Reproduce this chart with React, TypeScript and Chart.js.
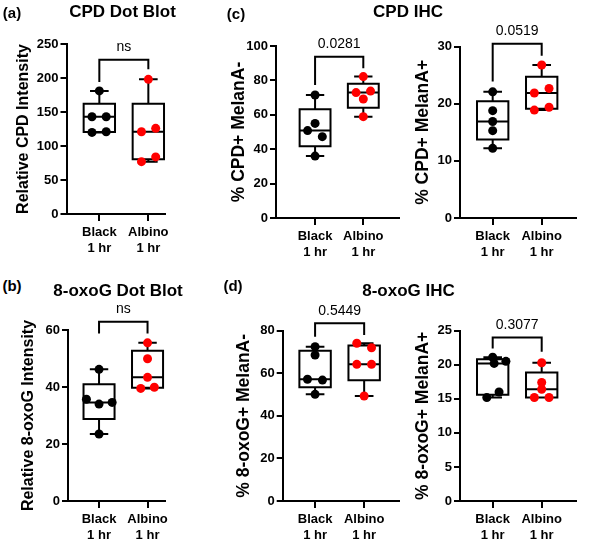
import React, { useEffect, useRef } from "react";
import { Chart, registerables } from "chart.js";
Chart.register(...registerables);

const FONT = "'Liberation Sans', Arial, Helvetica, sans-serif";

// Category tick labels
const categoryLabels = [["Black", "1 hr"], ["Albino", "1 hr"]];

// (a) CPD Dot Blot
const cpdDotBlack = [181, 143, 143, 120, 121];
const cpdDotBlackJitter = [0, -0.15, 0.14, -0.15, 0.14];
const cpdDotAlbino = [198, 121, 126, 84, 77];
const cpdDotAlbinoJitter = [0, -0.14, 0.15, 0.15, -0.14];
const cpdDotTicks = [0, 250, 50];
const cpdDotBracket = [227, 194, 213];
const cpdDotP = "ns";

// (b) 8-oxoG Dot Blot
const oxoDotBlack = [46.2, 35.7, 34.0, 34.6, 23.5];
const oxoDotBlackJitter = [0, -0.26, 0, 0.27, 0];
const oxoDotAlbino = [55.5, 49.9, 43.4, 39.5, 39.9];
const oxoDotAlbinoJitter = [0, 0, 0, -0.14, 0.14];
const oxoDotTicks = [0, 60, 20];
const oxoDotBracket = [62.9, 58.8, 58.8];
const oxoDotP = "ns";

// (c) CPD IHC, MelanA-
const cpdNegBlack = [71.5, 55.0, 50.8, 47.3, 36.0];
const cpdNegBlackJitter = [0, 0, -0.155, 0.15, 0];
const cpdNegAlbino = [82.2, 72.9, 73.8, 69.2, 58.9];
const cpdNegAlbinoJitter = [0, -0.15, 0.15, 0, 0];
const cpdNegTicks = [0, 100, 20];
const cpdNegBracket = [93.8, 77.3, 87];
const cpdNegP = "0.0281";

// (c) CPD IHC, MelanA+
const cpdPosBlack = [22.1, 18.8, 16.9, 15.3, 12.2];
const cpdPosBlackJitter = [0, 0, 0, 0, 0];
const cpdPosAlbino = [26.8, 21.9, 22.7, 18.9, 19.4];
const cpdPosAlbinoJitter = [0, -0.15, 0.15, -0.15, 0.15];
const cpdPosTicks = [0, 30, 10];
const cpdPosBracket = [30.5, 23.9, 28.4];
const cpdPosP = "0.0519";

// (d) 8-oxoG IHC, MelanA-
const oxoNegBlack = [72.5, 68.6, 57.2, 56.8, 50.1];
const oxoNegBlackJitter = [0, 0, -0.155, 0.15, 0];
const oxoNegAlbino = [74.1, 72.0, 64.2, 64.2, 49.3];
const oxoNegAlbinoJitter = [-0.15, 0.15, -0.15, 0.15, 0];
const oxoNegTicks = [0, 80, 20];
const oxoNegBracket = [83.5, 77.2, 78];
const oxoNegP = "0.5449";

// (d) 8-oxoG IHC, MelanA+
const oxoPosBlack = [21.1, 20.5, 20.2, 16.0, 15.2];
const oxoPosBlackJitter = [0, 0.27, 0.03, 0.13, -0.12];
const oxoPosAlbino = [20.3, 17.4, 16.4, 15.2, 15.2];
const oxoPosAlbinoJitter = [0, 0, 0, -0.15, 0.15];
const oxoPosTicks = [0, 25, 5];
const oxoPosBracket = [24.0, 22.4, 21.9];
const oxoPosP = "0.3077";

function median(a: number[]) {
  const n = a.length;
  const m = Math.floor(n / 2);
  return n % 2 ? a[m] : (a[m - 1] + a[m]) / 2;
}
function boxStats(values: number[]) {
  const s = [...values].sort((p, q) => p - q);
  const n = s.length;
  const half = Math.floor(n / 2);
  return {
    min: s[0],
    max: s[n - 1],
    med: median(s),
    q1: median(s.slice(0, half)),
    q3: median(s.slice(n - half)),
  };
}

type PanelProps = {
  box: number[]; // canvas x, y, w, h
  area: number[]; // left, top, right, bottom
  xRange: number[];
  yTicks: number[];
  yTitle: string;
  titleSize: number;
  titleX: number;
  black: number[];
  blackJitter: number[];
  albino: number[];
  albinoJitter: number[];
  bracket: number[];
  pLabel: string;
};

function Panel(p: PanelProps) {
  const ref = useRef<HTMLCanvasElement>(null);
  useEffect(() => {
    const [bx, by, bw, bh] = p.box;
    const [al, at, ar, ab] = p.area;
    const lh = p.titleSize * 1.2;
    const plugin = {
      id: "boxes",
      beforeDatasetsDraw(chart: any) {
        const { ctx } = chart;
        const x = chart.scales.x;
        const y = chart.scales.y;
        ctx.save();
        ctx.strokeStyle = "#000";
        ctx.lineWidth = 2;
        ctx.lineCap = "butt";
        const groups = [
          { v: p.black, pos: 1 },
          { v: p.albino, pos: 2 },
        ];
        for (const g of groups) {
          const st = boxStats(g.v);
          const xc = x.getPixelForValue(g.pos);
          const hw = x.getPixelForValue(g.pos + 0.32) - xc;
          const cw = x.getPixelForValue(g.pos + 0.19) - xc;
          const yq1 = y.getPixelForValue(st.q1);
          const yq3 = y.getPixelForValue(st.q3);
          const ym = y.getPixelForValue(st.med);
          const ymin = y.getPixelForValue(st.min);
          const ymax = y.getPixelForValue(st.max);
          ctx.beginPath();
          ctx.rect(xc - hw, yq3, 2 * hw, yq1 - yq3);
          ctx.moveTo(xc - hw, ym);
          ctx.lineTo(xc + hw, ym);
          ctx.moveTo(xc, yq3);
          ctx.lineTo(xc, ymax);
          ctx.moveTo(xc, yq1);
          ctx.lineTo(xc, ymin);
          ctx.moveTo(xc - cw, ymax);
          ctx.lineTo(xc + cw, ymax);
          ctx.moveTo(xc - cw, ymin);
          ctx.lineTo(xc + cw, ymin);
          ctx.stroke();
        }
        const [top, legL, legR] = p.bracket;
        const x1 = x.getPixelForValue(1);
        const x2 = x.getPixelForValue(2);
        const yt = y.getPixelForValue(top);
        ctx.beginPath();
        ctx.moveTo(x1, y.getPixelForValue(legL));
        ctx.lineTo(x1, yt);
        ctx.lineTo(x2, yt);
        ctx.lineTo(x2, y.getPixelForValue(legR));
        ctx.stroke();
        ctx.fillStyle = "#000";
        ctx.font = `14px ${FONT}`;
        ctx.textAlign = "center";
        ctx.textBaseline = "middle";
        ctx.fillText(p.pLabel, (x1 + x2) / 2, yt - 12.5);
        ctx.restore();
      },
    };
    const tickFont = { size: 13, weight: "bold" as const, family: FONT, lineHeight: 1.2 };
    const chart = new Chart(ref.current!, {
      type: "scatter",
      data: {
        datasets: [
          {
            data: p.black.map((v, i) => ({ x: 1 + p.blackJitter[i], y: v })),
            backgroundColor: "#000000",
            borderColor: "#000000",
            borderWidth: 0,
            pointRadius: 4.5,
            clip: false,
          } as any,
          {
            data: p.albino.map((v, i) => ({ x: 2 + p.albinoJitter[i], y: v })),
            backgroundColor: "#ff0000",
            borderColor: "#ff0000",
            borderWidth: 0,
            pointRadius: 4.5,
            clip: false,
          } as any,
        ],
      },
      options: {
        animation: false,
        responsive: false,
        events: [],
        layout: { padding: { left: 0, top: at - by, right: bx + bw - ar, bottom: 0 } },
        plugins: { legend: { display: false }, tooltip: { enabled: false } },
        scales: {
          x: {
            type: "linear",
            min: p.xRange[0],
            max: p.xRange[1],
            afterBuildTicks: (s: any) => {
              s.ticks = [{ value: 1 }, { value: 2 }];
            },
            ticks: {
              callback: (v: any) => categoryLabels[Math.round(Number(v)) - 1],
              font: tickFont,
              color: "#000",
              maxRotation: 0,
              autoSkip: false,
              padding: 4,
            },
            grid: { drawOnChartArea: false, drawTicks: true, tickLength: 7, color: "#000", lineWidth: 2 },
            border: { display: true, color: "#000", width: 2 },
            afterFit: (s: any) => {
              s.height = by + bh - ab;
            },
          } as any,
          y: {
            type: "linear",
            min: p.yTicks[0],
            max: p.yTicks[1],
            ticks: { stepSize: p.yTicks[2], font: tickFont, color: "#000", padding: 2 },
            grid: { drawOnChartArea: false, drawTicks: true, tickLength: 6, color: "#000", lineWidth: 2 },
            border: { display: true, color: "#000", width: 2 },
            title: {
              display: true,
              text: p.yTitle,
              color: "#000",
              font: { size: p.titleSize, weight: "bold", family: FONT, lineHeight: 1.2 },
              padding: { top: p.titleX - bx - lh / 2, bottom: 0 },
            },
            afterFit: (s: any) => {
              s.width = al - bx;
            },
          } as any,
        },
      },
      plugins: [plugin as any],
    });
    return () => chart.destroy();
  }, []);
  const [bx, by, bw, bh] = p.box;
  return (
    <canvas
      ref={ref}
      width={bw}
      height={bh}
      style={{ position: "absolute", left: bx, top: by, width: bw, height: bh }}
    />
  );
}

function Label(props: { text: string; x: number; y: number; size: number }) {
  return (
    <div
      style={{
        position: "absolute",
        left: props.x,
        top: props.y,
        transform: "translate(-50%, -50%)",
        fontFamily: FONT,
        fontWeight: "bold",
        fontSize: props.size,
        lineHeight: 1,
        whiteSpace: "nowrap",
        color: "#000",
      }}
    >
      {props.text}
    </div>
  );
}

export default function App() {
  return (
    <div style={{ position: "fixed", left: 0, top: 0, width: 614, height: 551, background: "#fff", overflow: "hidden" }}>
      <Panel
        box={[0, 20, 200, 250]}
        area={[66.5, 44, 165, 214]}
        xRange={[0.33, 2.34]}
        yTicks={cpdDotTicks}
        yTitle="Relative CPD Intensity"
        titleSize={16}
        titleX={24}
        black={cpdDotBlack}
        blackJitter={cpdDotBlackJitter}
        albino={cpdDotAlbino}
        albinoJitter={cpdDotAlbinoJitter}
        bracket={cpdDotBracket}
        pLabel={cpdDotP}
      />
      <Panel
        box={[0, 298, 200, 253]}
        area={[68, 330, 165, 501]}
        xRange={[0.36, 2.36]}
        yTicks={oxoDotTicks}
        yTitle="Relative 8-oxoG Intensity"
        titleSize={16}
        titleX={29}
        black={oxoDotBlack}
        blackJitter={oxoDotBlackJitter}
        albino={oxoDotAlbino}
        albinoJitter={oxoDotAlbinoJitter}
        bracket={oxoDotBracket}
        pLabel={oxoDotP}
      />
      <Panel
        box={[200, 20, 205, 250]}
        area={[276, 46, 399, 218]}
        xRange={[0.19, 2.74]}
        yTicks={cpdNegTicks}
        yTitle="% CPD+ MelanA-"
        titleSize={17.5}
        titleX={239.5}
        black={cpdNegBlack}
        blackJitter={cpdNegBlackJitter}
        albino={cpdNegAlbino}
        albinoJitter={cpdNegAlbinoJitter}
        bracket={cpdNegBracket}
        pLabel={cpdNegP}
      />
      <Panel
        box={[405, 20, 209, 250]}
        area={[460, 46.7, 576, 218]}
        xRange={[0.333, 2.7]}
        yTicks={cpdPosTicks}
        yTitle="% CPD+ MelanA+"
        titleSize={17.5}
        titleX={423}
        black={cpdPosBlack}
        blackJitter={cpdPosBlackJitter}
        albino={cpdPosAlbino}
        albinoJitter={cpdPosAlbinoJitter}
        bracket={cpdPosBracket}
        pLabel={cpdPosP}
      />
      <Panel
        box={[200, 298, 205, 253]}
        area={[282.7, 330.7, 399, 501]}
        xRange={[0.34, 2.71]}
        yTicks={oxoNegTicks}
        yTitle="% 8-oxoG+ MelanA-"
        titleSize={17.5}
        titleX={244}
        black={oxoNegBlack}
        blackJitter={oxoNegBlackJitter}
        albino={oxoNegAlbino}
        albinoJitter={oxoNegAlbinoJitter}
        bracket={oxoNegBracket}
        pLabel={oxoNegP}
      />
      <Panel
        box={[405, 298, 209, 253]}
        area={[460, 330.7, 576, 501]}
        xRange={[0.333, 2.7]}
        yTicks={oxoPosTicks}
        yTitle="% 8-oxoG+ MelanA+"
        titleSize={17.5}
        titleX={423}
        black={oxoPosBlack}
        blackJitter={oxoPosBlackJitter}
        albino={oxoPosAlbino}
        albinoJitter={oxoPosAlbinoJitter}
        bracket={oxoPosBracket}
        pLabel={oxoPosP}
      />
      <Label text="(a)" x={12} y={12} size={15} />
      <Label text="CPD Dot Blot" x={122.5} y={10.5} size={17} />
      <Label text="(b)" x={12} y={285} size={15} />
      <Label text="8-oxoG Dot Blot" x={118} y={290} size={17} />
      <Label text="(c)" x={236} y={13} size={15} />
      <Label text="CPD IHC" x={408} y={11} size={17} />
      <Label text="(d)" x={233} y={285} size={15} />
      <Label text="8-oxoG IHC" x={408.5} y={290} size={17} />
    </div>
  );
}
